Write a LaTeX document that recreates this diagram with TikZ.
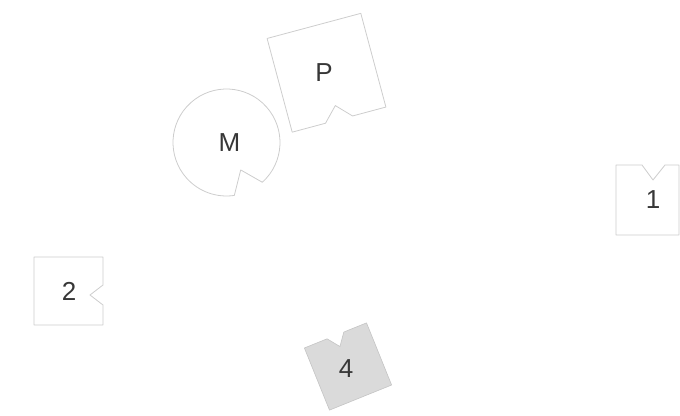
\documentclass[tikz,border=0pt]{standalone}
\usepackage{fontspec}
\setmainfont{Liberation Sans}
\usetikzlibrary{calc}
\definecolor{edgegray}{RGB}{205,205,205}
\definecolor{fillgray}{RGB}{218,218,218}
\definecolor{txtgray}{RGB}{55,55,55}
\tikzset{
  outline/.style={draw=edgegray, line width=0.8pt, line join=round},
  filledshape/.style={draw=fillgray!90!black, fill=fillgray, line width=0.6pt, line join=round},
  lbl/.style={text=txtgray, font=\fontsize{26}{30}\selectfont, inner sep=0pt}
}
\begin{document}
\begin{tikzpicture}[x=1pt,y=1pt]
\useasboundingbox (0,0) rectangle (680,-415);
% M : circle with V notch
\begin{scope}[shift={(226.5,-142.5)}]
  \draw[outline] (-48:53.5) arc[start angle=-48, end angle=278.4, radius=53.5] -- (-62.6:30.9) -- cycle;
  \node[lbl] (M) at (3,0) {M};
\end{scope}
% P : rotated square, notch on bottom edge
\begin{scope}[shift={(326.5,-72.75)}, rotate=15]
  \draw[outline] (-48.5,48.5) -- (48.5,48.5) -- (48.5,-48.5) -- (14,-48.5) -- (0,-34) -- (-14,-48.5) -- (-48.5,-48.5) -- cycle;
\end{scope}
\node[lbl] (P) at (324,-73) {P};
% 1 : box with notch on top edge
\draw[outline] (616,-165) -- (642,-165) -- (653,-180) -- (665,-165) -- (679,-165) -- (679,-235) -- (616,-235) -- cycle;
\node[lbl] (n1) at (653,-200) {1};
% 2 : box with notch on right edge
\draw[outline] (34,-257) -- (103,-257) -- (103,-285) -- (90,-295) -- (103,-305) -- (103,-325) -- (34,-325) -- cycle;
\node[lbl] (n2) at (69,-291) {2};
% 4 : filled rotated square, notch on top edge
\begin{scope}[shift={(348,-366.5)}, rotate=22]
  \path[filledshape] (-33.5,33.5) -- (-9,33.5) -- (0,21.5) -- (9,33.5) -- (33.5,33.5) -- (33.5,-33.5) -- (-33.5,-33.5) -- cycle;
\end{scope}
\node[lbl] (n4) at (346,-369) {4};
\end{tikzpicture}
\end{document}
